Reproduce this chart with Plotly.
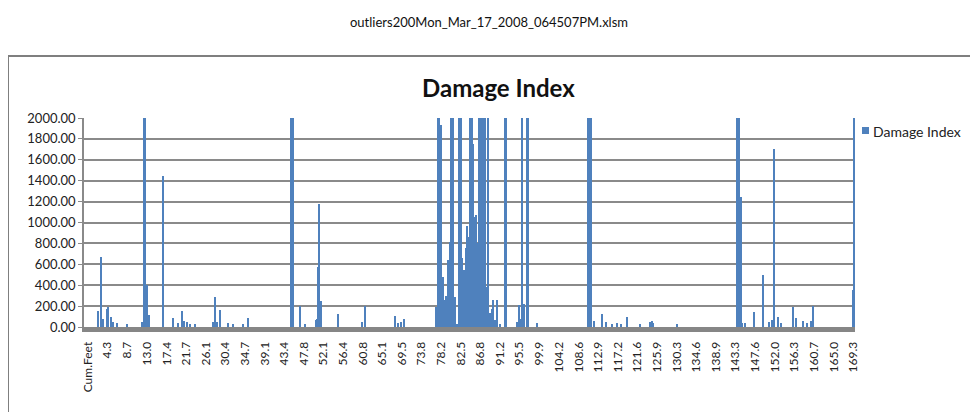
import plotly.graph_objects as go

# ---- data ----
tick_labels = ["Cum.Feet", "4.3", "8.7", "13.0", "17.4", "21.7", "26.1", "30.4", "34.7", "39.1",
               "43.4", "47.8", "52.1", "56.4", "60.8", "65.1", "69.5", "73.8", "78.2", "82.5",
               "86.8", "91.2", "95.5", "99.9", "104.2", "108.6", "112.9", "117.2", "121.6", "125.9",
               "130.3", "134.6", "138.9", "143.3", "147.6", "152.0", "156.3", "160.7", "165.0", "169.3"]

cum_feet = [
    2.15, 2.81, 3.39, 4.14, 4.49, 5.09, 5.47, 6.48, 8.56, 11.88,
    12.39, 12.72, 13.01, 13.50, 16.66, 18.74, 19.85, 20.73, 21.24, 21.84,
    22.57, 23.68, 27.73, 28.17, 28.61, 29.14, 31.05, 32.15, 34.37, 35.47,
    44.92, 45.36, 46.91, 48.02, 50.45, 50.74, 50.96, 51.18, 51.49, 55.26,
    60.57, 61.30, 67.94, 68.67, 69.20, 69.93,
    77.01, 77.45, 77.78, 78.05, 78.49, 78.78, 79.15, 79.44, 79.73, 80.04,
    80.33, 80.55, 80.84, 81.21, 81.59, 81.99, 82.32, 82.61, 82.87, 83.20,
    83.58, 83.93, 84.31, 84.60, 84.91, 85.20, 85.53, 85.86, 86.15, 86.52,
    86.86, 87.19, 87.52, 87.85, 88.29, 88.58, 88.96, 89.33, 89.69, 90.06,
    90.44, 91.17, 92.17, 92.50, 94.87, 95.38, 95.82, 96.11, 96.55, 97.08,
    97.43, 99.29,
    110.71, 111.09, 111.42, 111.97, 113.68, 114.63, 115.96, 117.06, 117.95, 119.34,
    122.15, 124.36, 124.81, 125.14, 130.27,
    143.51, 143.84, 144.17, 144.50, 144.83, 145.39, 147.44, 149.44, 150.76, 151.29,
    151.80, 152.75, 153.29, 156.08, 156.67, 158.29, 159.17, 159.92, 160.50, 169.22,
    169.57,
]

damage_index = [
    150, 673, 75, 170, 195, 100, 50, 40, 30, 50,
    2000, 2000, 400, 115, 1445, 90, 40, 155, 60, 50,
    30, 30, 50, 285, 50, 165, 40, 30, 30, 90,
    2000, 2000, 200, 30, 70, 80, 577, 1174, 250, 125,
    50, 200, 110, 40, 50, 80,
    195, 2000, 2000, 1930, 480, 260, 300, 230, 640, 817,
    2000, 260, 2000, 290, 30, 2000, 2000, 2000, 660, 545,
    755, 965, 865, 2000, 2000, 1750, 1055, 1070, 800, 2000,
    2000, 2000, 2000, 2000, 385, 2000, 130, 170, 260, 70,
    260, 30, 2000, 2000, 50, 210, 80, 2000, 220, 2000,
    2000, 40,
    2000, 2000, 2000, 60, 125, 50, 30, 40, 30, 100,
    30, 50, 60, 40, 30,
    2000, 2000, 2000, 1247, 40, 40, 140, 497, 50, 70,
    1700, 100, 40, 195, 90, 60, 40, 60, 200, 355,
    2000,
]

page_title = "outliers200Mon_Mar_17_2008_064507PM.xlsm"
chart_title = "Damage Index"
series_name = "Damage Index"

# ---- layout geometry (reference pixels; page body adds an 8px margin) ----
OFF = 8
W, H = 978 - OFF, 412 - OFF
PL, PR, PT, PB = 84, 855, 118, 327  # plot area in reference pixels


def px(x):
    return (x - PL) / (PR - PL)


def py(y):
    return (PB - y) / (PB - PT)


tick_vals = [0.0] + [float(t) for t in tick_labels[1:]]

FONT = "Lato, 'Open Sans', sans-serif"
BLUE = "#4F81BD"
GRID = "#8a8a8a"

fig = go.Figure()
fig.add_trace(go.Bar(
    x=cum_feet, y=damage_index, name=series_name,
    width=0.2, marker=dict(color=BLUE, line=dict(width=0)),
    showlegend=False,
))

fig.update_layout(
    width=W, height=H,
    margin=dict(l=PL - OFF, r=W - (PR - OFF), t=PT - OFF, b=H - (PB - OFF), pad=0),
    paper_bgcolor="white", plot_bgcolor="white",
    font=dict(family=FONT, size=13, color="#222"),
    bargap=0,
    showlegend=False,
)

fig.update_xaxes(
    range=[-0.89, 169.73],
    tickmode="array", tickvals=tick_vals, ticktext=tick_labels,
    tickangle=-90, tickfont=dict(size=12, family=FONT, color="#222"),
    showgrid=False, zeroline=False,
    showline=True, linecolor="#868686", linewidth=5,
    ticks="", ticklabelstandoff=5,
)
fig.update_yaxes(
    range=[0, 2000], dtick=200, tickformat=".2f",
    tickfont=dict(size=13, family=FONT, color="#222"),
    showgrid=True, gridcolor=GRID, gridwidth=1.5,
    zeroline=False,
    showline=True, linecolor=GRID, linewidth=1.5,
    ticks="outside", ticklen=4, tickcolor=GRID,
)

# chart border box
fig.add_shape(type="rect", xref="paper", yref="paper",
              x0=px(8), x1=px(1000), y0=py(430), y1=py(56),
              line=dict(color="#7f7f7f", width=2), fillcolor="rgba(0,0,0,0)", layer="below")

# page title
fig.add_annotation(text=page_title, xref="paper", yref="paper",
                   x=px(489), y=py(22), xanchor="center", yanchor="middle", showarrow=False,
                   font=dict(size=13, family=FONT, color="#111"))
# chart title
fig.add_annotation(text="<b>" + chart_title + "</b>", xref="paper", yref="paper",
                   x=px(498), y=py(87), xanchor="center", yanchor="middle", showarrow=False,
                   font=dict(size=24, family=FONT, color="#111"))

# legend
fig.add_shape(type="rect", xref="paper", yref="paper",
              x0=px(862), x1=px(869), y0=py(134), y1=py(127),
              line=dict(width=0), fillcolor=BLUE)
fig.add_annotation(text=series_name, xref="paper", yref="paper",
                   x=px(871), y=py(131), xanchor="left", yanchor="middle", showarrow=False,
                   font=dict(size=14, family=FONT, color="#222"))

fig.write_html("out.html")
